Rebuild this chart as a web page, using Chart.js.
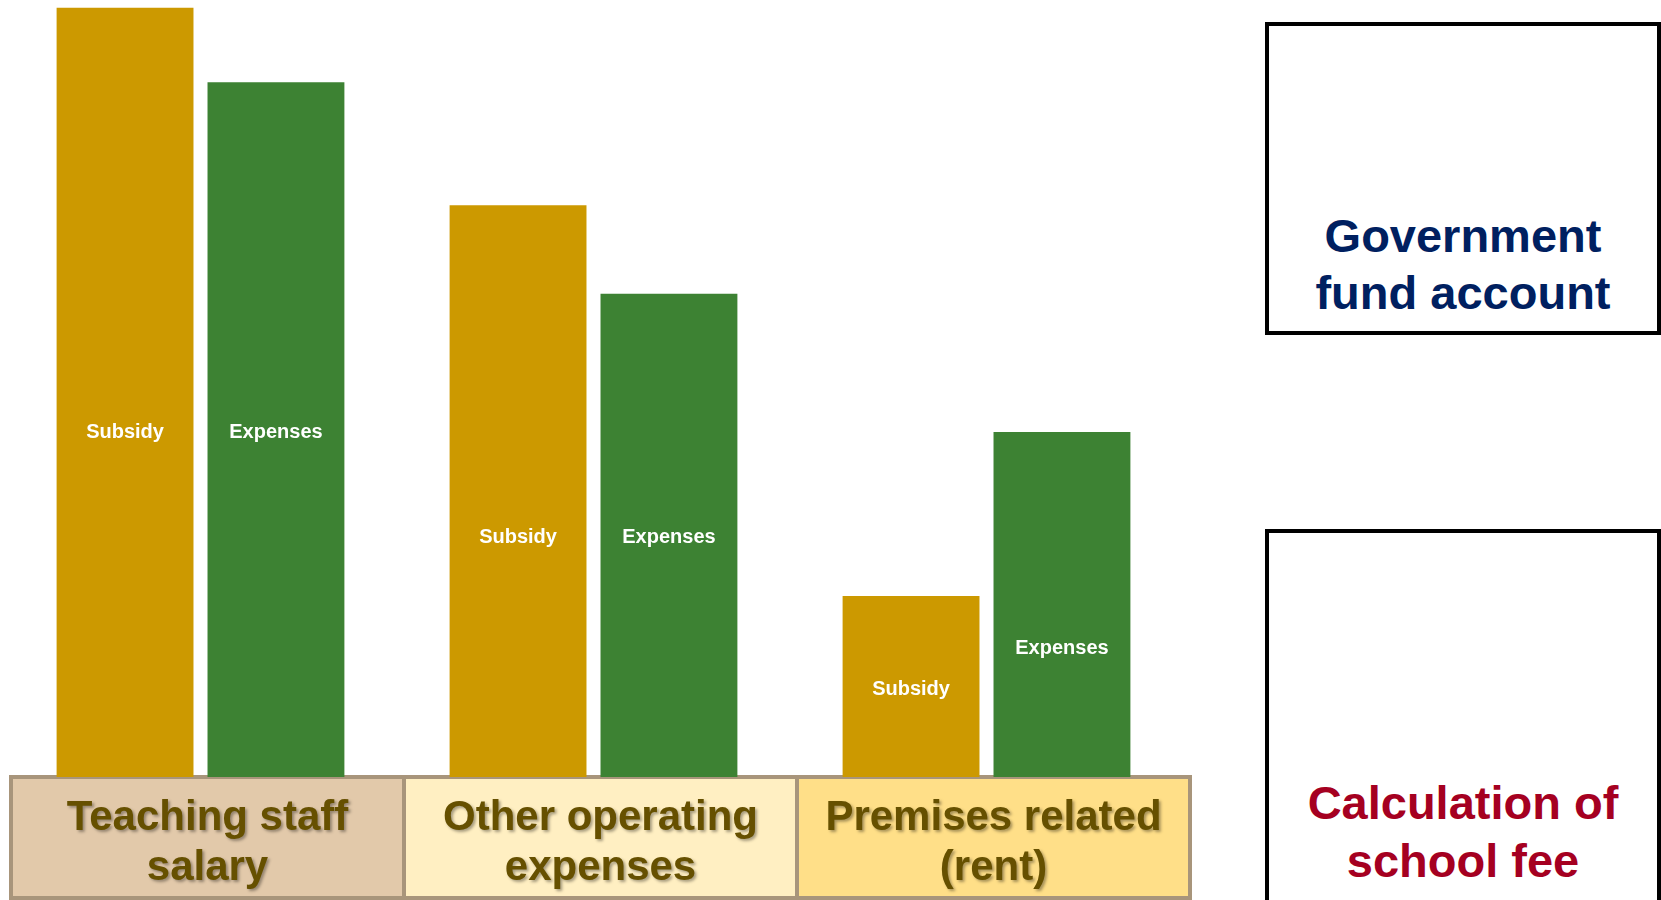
<!DOCTYPE html>
<html>
<head>
<meta charset="utf-8">
<script src="https://cdn.jsdelivr.net/npm/chart.js@4"></script>
<style>
  body { margin: 0; width: 1661px; height: 900px; overflow: hidden; background: #fff; position: relative; }
  #chartWrap { position: absolute; left: 0; top: 0; width: 1200px; height: 900px; }
  .side { position: absolute; left: 1265px; width: 396px; border: 4px solid #000; box-sizing: border-box; background: #fff; }
  .side div { position: absolute; left: 0; right: 0; text-align: center; font: bold 47px "Liberation Sans", Arial, sans-serif; }
</style>
</head>
<body>
<div id="chartWrap"><canvas id="feeChart"></canvas></div>
<div class="side" style="top:22px;height:313px;">
  <div style="top:181px;line-height:57px;color:#002060;">Government<br>fund account</div>
</div>
<div class="side" style="top:529px;height:380px;">
  <div style="top:241px;line-height:58px;color:#A50021;">Calculation of<br>school fee</div>
</div>
<script>
const categories = [['Teaching staff', 'salary'], ['Other operating', 'expenses'], ['Premises related', '(rent)']];
const subsidy = [99.0, 73.6, 23.3];
const expenses = [89.4, 62.2, 44.4];
// where the text sits inside each bar (same units as the bars)
const subsidyLabelAt = [44.3, 30.8, 11.25];
const expensesLabelAt = [44.3, 30.8, 16.55];
const cellColors = ['#E2C9AA', '#FFEFC2', '#FFDF88'];

const labelAt = [subsidyLabelAt, expensesLabelAt];

const boxPlugin = {
    id: 'labelBoxes',
    beforeDraw(chart) {
        const ctx = chart.ctx;
        const x = chart.scales.x;
        const w = x.width / categories.length;
        const top = chart.chartArea.bottom;
        const left = x.getPixelForValue(0) - w / 2 + 7;
        ctx.save();
        categories.forEach((c, i) => {
            ctx.fillStyle = cellColors[i];
            ctx.fillRect(left + i * w, top, w, 130);
        });
        ctx.strokeStyle = '#A8957B';
        ctx.lineWidth = 4;
        ctx.strokeRect(left, top, w * categories.length, 121);
        for (let i = 1; i < categories.length; i++) {
            ctx.beginPath();
            ctx.moveTo(left + i * w, top);
            ctx.lineTo(left + i * w, top + 125);
            ctx.stroke();
        }
        ctx.restore();
        // shadow for the category text drawn by the x axis
        ctx.shadowColor = 'rgba(0,0,0,0.35)';
        ctx.shadowOffsetX = 2;
        ctx.shadowOffsetY = 2;
        ctx.shadowBlur = 3;
    },
    beforeDatasetsDraw(chart) {
        const ctx = chart.ctx;
        ctx.shadowColor = 'rgba(0,0,0,0)';
        ctx.shadowOffsetX = 0;
        ctx.shadowOffsetY = 0;
        ctx.shadowBlur = 0;
    },
    afterDatasetsDraw(chart) {
        const ctx = chart.ctx;
        const y = chart.scales.y;
        ctx.save();
        ctx.fillStyle = '#fff';
        ctx.font = 'bold 20px "Liberation Sans", Arial, sans-serif';
        ctx.textAlign = 'center';
        ctx.textBaseline = 'middle';
        chart.data.datasets.forEach((ds, d) => {
            chart.getDatasetMeta(d).data.forEach((bar, i) => {
                ctx.fillText(ds.label, bar.x, y.getPixelForValue(labelAt[d][i]));
            });
        });
        ctx.restore();
    }
};

new Chart(document.getElementById('feeChart'), {
    type: 'bar',
    data: {
        labels: categories,
        datasets: [
            { label: 'Subsidy', data: subsidy, backgroundColor: '#CC9900' },
            { label: 'Expenses', data: expenses, backgroundColor: '#3D8233' }
        ]
    },
    options: {
        responsive: true,
        maintainAspectRatio: false,
        animation: false,
        categoryPercentage: 0.768,
        barPercentage: 0.907,
        layout: { padding: { left: 4, right: 17, top: 0, bottom: 0 } },
        plugins: { legend: { display: false }, tooltip: { enabled: false } },
        scales: {
            x: {
                grid: { display: false, drawTicks: false },
                border: { display: false },
                ticks: {
                    color: '#665000',
                    padding: 16,
                    labelOffset: 7,
                    maxRotation: 0,
                    autoSkip: false,
                    font: { family: '"Liberation Sans", Arial, sans-serif', weight: 'bold', size: 42, lineHeight: 1.19 }
                },
                afterFit: function (scale) {
                    scale.height = 123;
                    scale.paddingLeft = 0;
                    scale.paddingRight = 0;
                }
            },
            y: { display: false, min: 0, max: 100 }
        }
    },
    plugins: [boxPlugin]
});
</script>
</body>
</html>
